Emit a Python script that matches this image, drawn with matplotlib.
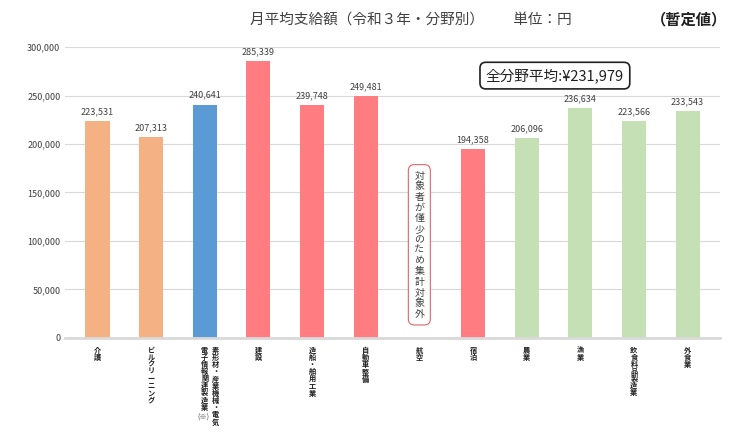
import matplotlib.pyplot as plt
from matplotlib.transforms import blended_transform_factory
import numpy as np

plt.rcParams["font.family"] = "Noto Sans CJK JP"

categories = ["介護", "ビルクリーニング", "素形材・産業機械・電気|電子情報関連製造業", "建設",
              "造船・舶用工業", "自動車整備", "航空", "宿泊", "農業", "漁業", "飲食料品製造業", "外食業"]
values = [223531, 207313, 240641, 285339, 239748, 249481, None, 194358, 206096, 236634, 223566, 233543]
colors = ["#F4B183", "#F4B183", "#5B9BD5", "#FF7C80", "#FF7C80", "#FF7C80", "#FF7C80",
          "#FF7C80", "#C5E0B4", "#C5E0B4", "#C5E0B4", "#C5E0B4"]
average = 231979

fig = plt.figure(figsize=(7.33, 4.32), dpi=100)
ax = fig.add_axes([0.089, 0.218, 0.893, 0.673])
x = np.arange(len(categories))
h = [v if v is not None else 0 for v in values]
ax.bar(x, h, width=0.45, color=colors, zorder=2)
for xi, v in zip(x, values):
    if v is not None:
        ax.text(xi, v + 5000, f"{v:,}", ha="center", va="bottom", fontsize=6.5, color="#404040")

ax.set_xlim(-0.6, len(categories) - 0.4)
ax.set_ylim(0, 300000)
ax.set_yticks(np.arange(0, 300001, 50000))
ax.set_yticklabels([f"{t:,}" for t in range(0, 300001, 50000)], fontsize=6.5, color="#404040")
ax.yaxis.grid(True, color="#D9D9D9", lw=0.8, zorder=0)
ax.tick_params(length=0)
ax.set_xticks([])
for s in ["top", "right", "left"]:
    ax.spines[s].set_visible(False)
ax.spines["bottom"].set_color("#D9D9D9")
ax.spines["bottom"].set_linewidth(2)

# vertical category labels
tr = blended_transform_factory(ax.transData, ax.transAxes)
for xi, lab in zip(x, categories):
    cols = lab.split("|")
    offs = [0.0] if len(cols) == 1 else [0.2, 0.0]
    for off, col in zip(offs, cols):
        t = ax.text(xi + off, -0.03, "\n".join(col), transform=tr, ha="center", va="top",
                    fontsize=5.2, fontweight="bold", linespacing=1.02, color="#202020")
    if len(cols) > 1:
        ax.text(xi - 0.03, -0.03 - len(cols[1]) * 0.0255, "(※)", transform=tr, ha="center", va="top",
                fontsize=5.2, color="#404040")

# note for 航空
ax.text(6, 0.32, "\n".join("対象者が僅少のため集計対象外"), transform=tr, ha="center", va="center",
        fontsize=7.2, linespacing=1.08, color="#404040",
        bbox=dict(boxstyle="round,pad=0.6,rounding_size=0.6", fc="white", ec="#E06666", lw=0.8))

fig.text(0.56, 0.955, "月平均支給額（令和３年・分野別）　　単位：円", ha="center", va="center",
         fontsize=10.5, color="#404040")
fig.text(0.94, 0.955, "（暫定値）", ha="center", va="center", fontsize=11, fontweight="bold", color="#202020")
fig.text(0.757, 0.825, f"全分野平均:¥{average:,}", ha="center", va="center", fontsize=10.5, color="#202020",
         bbox=dict(boxstyle="round,pad=0.4,rounding_size=0.4", fc="white", ec="#202020", lw=1.2))

fig.savefig("out.png", dpi=100)
